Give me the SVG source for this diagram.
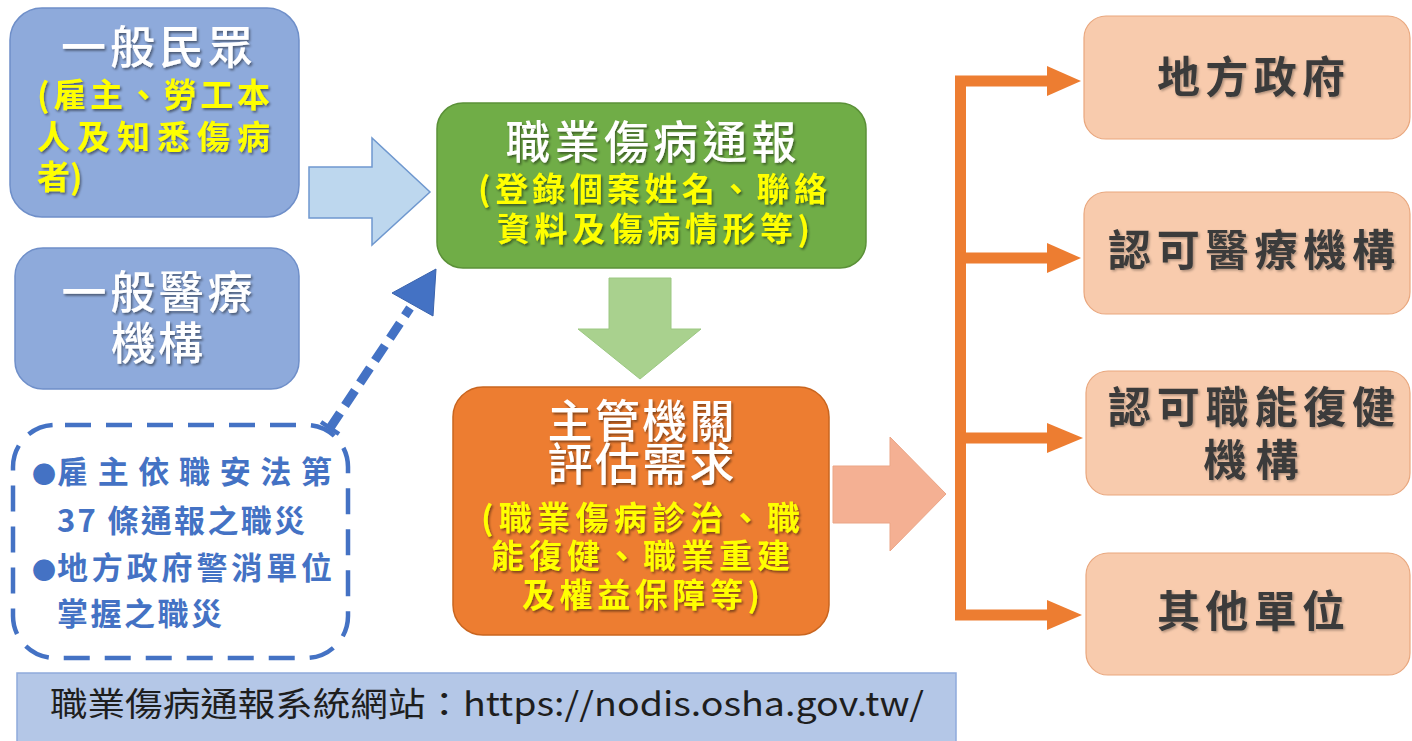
<svg xmlns="http://www.w3.org/2000/svg" width="1412" height="741" viewBox="0 0 1412 741">
<defs>
  <filter id="sh" x="-10%" y="-20%" width="120%" height="150%">
    <feDropShadow dx="1.5" dy="2" stdDeviation="1.2" flood-color="#000" flood-opacity="0.45"/>
  </filter>
  <filter id="shl" x="-10%" y="-20%" width="120%" height="150%">
    <feDropShadow dx="1.5" dy="1.5" stdDeviation="1" flood-color="#000" flood-opacity="0.3"/>
  </filter>
</defs>
<style>
  text { font-family: "Noto Sans CJK TC", "Noto Sans CJK SC", sans-serif; }
  .blue { fill: #8eaadb; stroke: #6f8fc9; stroke-width: 1.5; }
  .title { fill: #ffffff; font-size: 45px; font-weight: 500; filter: url(#sh); }
  .yel { fill: #ffff00; font-size: 33px; font-weight: 700; filter: url(#sh); }
  .peach { fill: #f8cbad; stroke: #e9a77e; stroke-width: 1.2; }
  .dark { fill: #3b3b3b; font-size: 43px; font-weight: 700; filter: url(#shl); }
  .note { fill: #4472c4; font-size: 31px; font-weight: 700; }
  .branch { stroke: #ed7d31; stroke-width: 11; fill: none; }
  .head { fill: #ed7d31; }
</style>

<g id="node-public">
  <rect class="blue" x="10" y="8" width="289" height="209" rx="32"/>
  <text class="title" x="157" y="64" text-anchor="middle" textLength="192" lengthAdjust="spacing">一般民眾</text>
  <text class="yel" x="37" y="107" textLength="233" lengthAdjust="spacing">(雇主、勞工本</text>
  <text class="yel" x="37" y="149" textLength="233" lengthAdjust="spacing">人及知悉傷病</text>
  <text class="yel" x="37" y="189">者)</text>
</g>

<g id="node-medical">
  <rect class="blue" x="15" y="248" width="284" height="141" rx="28"/>
  <text class="title" x="157" y="309" text-anchor="middle" textLength="191" lengthAdjust="spacing">一般醫療</text>
  <text class="title" x="157" y="360" text-anchor="middle" textLength="92" lengthAdjust="spacing">機構</text>
</g>

<g id="node-sources">
  <rect x="13" y="425" width="335" height="233" rx="42" fill="none" stroke="#4472c4" stroke-width="4.5" stroke-dasharray="26 15" stroke-dashoffset="-10"/>
  <text class="note" x="32" y="483"><tspan font-size="24">●</tspan><tspan x="57" textLength="275" lengthAdjust="spacing">雇主依職安法第</tspan></text>
  <text class="note" x="57" y="532" textLength="248" lengthAdjust="spacing">37 條通報之職災</text>
  <text class="note" x="32" y="579"><tspan font-size="24">●</tspan><tspan x="57" textLength="275" lengthAdjust="spacing">地方政府警消單位</tspan></text>
  <text class="note" x="57" y="625" textLength="165" lengthAdjust="spacing">掌握之職災</text>
</g>

<g id="node-report">
  <rect x="437" y="103" width="429" height="165" rx="26" fill="#70ad47" stroke="#5b9138" stroke-width="1.5"/>
  <text class="title" x="651" y="159" text-anchor="middle" textLength="291" lengthAdjust="spacing">職業傷病通報</text>
  <text class="yel" x="478" y="201" font-size="31" textLength="349" lengthAdjust="spacing">(登錄個案姓名、聯絡</text>
  <text class="yel" x="497" y="241" font-size="31" textLength="313" lengthAdjust="spacing">資料及傷病情形等)</text>
</g>

<g id="node-authority">
  <rect x="453" y="387" width="376" height="248" rx="30" fill="#ed7d31" stroke="#c9651f" stroke-width="1.5"/>
  <text class="title" x="641" y="438" font-size="37" text-anchor="middle" textLength="187" lengthAdjust="spacing">主管機關</text>
  <text class="title" x="641" y="481" font-size="37" text-anchor="middle" textLength="187" lengthAdjust="spacing">評估需求</text>
  <text class="yel" x="481" y="530" font-size="30" textLength="319" lengthAdjust="spacing">(職業傷病診治、職</text>
  <text class="yel" x="491" y="568" font-size="30" textLength="299" lengthAdjust="spacing">能復健、職業重建</text>
  <text class="yel" x="522" y="607" font-size="30" textLength="238" lengthAdjust="spacing">及權益保障等)</text>
</g>

<g id="node-local-gov">
  <rect class="peach" x="1084" y="16" width="326" height="123" rx="22"/>
  <text class="dark" x="1157" y="93" textLength="188" lengthAdjust="spacing">地方政府</text>
</g>
<g id="node-cert-medical">
  <rect class="peach" x="1084" y="192" width="326" height="122" rx="22"/>
  <text class="dark" x="1108" y="266" textLength="287" lengthAdjust="spacing">認可醫療機構</text>
</g>
<g id="node-cert-rehab">
  <rect class="peach" x="1086" y="371" width="324" height="124" rx="22"/>
  <text class="dark" x="1108" y="423" textLength="287" lengthAdjust="spacing">認可職能復健</text>
  <text class="dark" x="1251" y="476" text-anchor="middle" textLength="95" lengthAdjust="spacing">機構</text>
</g>
<g id="node-other">
  <rect class="peach" x="1086" y="553" width="324" height="122" rx="22"/>
  <text class="dark" x="1157" y="627" textLength="188" lengthAdjust="spacing">其他單位</text>
</g>

<g id="banner">
  <rect x="17" y="673" width="939" height="70" fill="#b4c7e7" stroke="#8faadc" stroke-width="1.5"/>
  <text x="50" y="716" font-size="33" fill="#1e1e1e" textLength="874" lengthAdjust="spacingAndGlyphs">職業傷病通報系統網站：https://nodis.osha.gov.tw/</text>
</g>

<g id="connectors">
  <polygon points="309,167 372,167 372,138 430,192 372,245 372,218 309,218" fill="#bdd7ee" stroke="#6f98cf" stroke-width="1.5"/>
  <polygon points="609,278 671,278 671,329 701,329 640,379 578,329 609,329" fill="#a9d18e" stroke="#9cc882" stroke-width="1"/>
  <polygon points="833,466 890,466 890,437 946,494 890,551 890,523 833,523" fill="#f4b093" stroke="#eba586" stroke-width="1"/>
  <line x1="330" y1="428" x2="410" y2="308" stroke="#4472c4" stroke-width="9" stroke-dasharray="18 9"/>
  <line x1="321" y1="422" x2="339" y2="434" stroke="#4472c4" stroke-width="4.5"/>
  <polygon points="436,269 392,293 433,316" fill="#4472c4" stroke="#3a63ad" stroke-width="1"/>
  <polyline class="branch" points="1050,81 960.5,81 960.5,615 1050,615"/>
  <line class="branch" x1="960" y1="258" x2="1050" y2="258"/>
  <line class="branch" x1="960" y1="438" x2="1050" y2="438"/>
  <polygon class="head" points="1047,66 1081,81 1047,96"/>
  <polygon class="head" points="1047,243 1081,258 1047,273"/>
  <polygon class="head" points="1047,423 1083,438 1047,453"/>
  <polygon class="head" points="1047,600 1082,615 1047,630"/>
</g>
</svg>
